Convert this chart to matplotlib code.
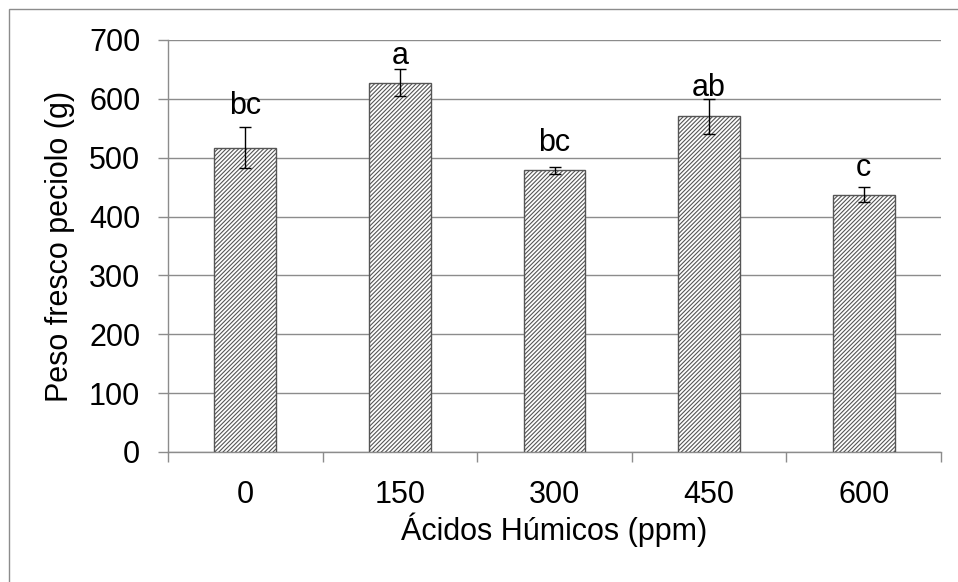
import matplotlib.pyplot as plt
import matplotlib as mpl
from matplotlib.patches import Rectangle

plt.rcParams['font.family'] = ['Liberation Sans', 'DejaVu Sans']
mpl.rcParams['hatch.linewidth'] = 0.8
mpl.rcParams['hatch.color'] = '#222222'

dosis = ['0', '150', '300', '450', '600']
peso = [517, 627, 479, 570, 437]
error = [35, 23, 6, 29, 13]
letras = ['bc', 'a', 'bc', 'ab', 'c']
letra_y = [574, 659, 512, 604, 469]

fig = plt.figure(figsize=(9.58, 5.82), dpi=100)
ax = fig.add_axes([0.1754, 0.2234, 0.8069, 0.7079])

x = list(range(len(dosis)))
ax.bar(x, peso, width=0.4, color='white', edgecolor='#555555', linewidth=1.0,
       hatch='////////', zorder=3)
ax.errorbar(x, peso, yerr=error, fmt='none', ecolor='black', elinewidth=1.0,
            capsize=4.5, capthick=1.0, zorder=4)
for xi, yi, t in zip(x, letra_y, letras):
    ax.text(xi, yi, t, ha='center', va='baseline', fontsize=22, zorder=5)

ax.set_xlim(-0.5, len(dosis) - 0.5)
ax.set_ylim(0, 700)
ax.set_yticks(range(0, 701, 100))
ax.yaxis.grid(True, color='#8c8c8c', linewidth=1.0, zorder=0)
ax.set_xticks(x)
ax.set_xticklabels(dosis)
ax.set_xticks([i - 0.5 for i in range(len(dosis) + 1)], minor=True)
ax.tick_params(axis='x', which='major', length=0, pad=20, labelsize=22)
ax.tick_params(axis='x', which='minor', length=7, color='#8c8c8c', width=1.0)
ax.tick_params(axis='y', length=7, color='#8c8c8c', width=1.0, pad=13, labelsize=22)

for s in ['top', 'right']:
    ax.spines[s].set_visible(False)
for s in ['left', 'bottom']:
    ax.spines[s].set_color('#8c8c8c')
    ax.spines[s].set_linewidth(1.0)

ax.set_ylabel('Peso fresco peciolo (g)', fontsize=22, labelpad=10)
ax.set_xlabel('Ácidos Húmicos (ppm)', fontsize=22, labelpad=2)

fig.patches.append(Rectangle((9 / 958, -0.1), 1.2, 1 - 9 / 582 + 0.1,
                             transform=fig.transFigure, fill=False,
                             edgecolor='#8c8c8c', linewidth=1.0))

fig.savefig('out.png', dpi=100)
